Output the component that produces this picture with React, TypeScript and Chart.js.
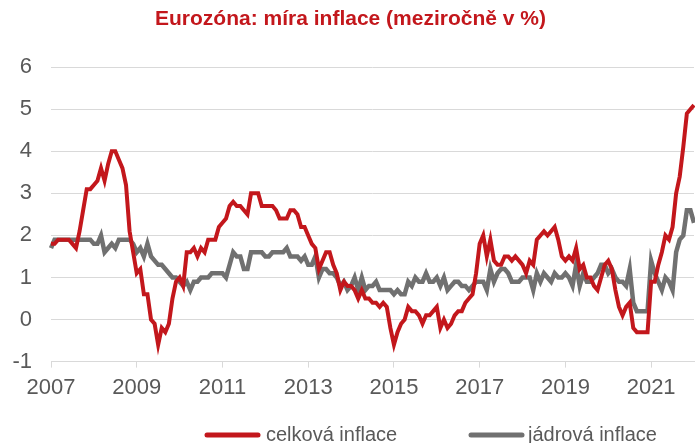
import React, { useEffect, useRef } from "react";
import { Chart, registerables } from "chart.js";

Chart.register(...registerables);

const title = "Eurozóna: míra inflace (meziročně v %)";
const seriesNames = ["celková inflace", "jádrová inflace"];
const startYear = 2007;
const tickYears = [2007, 2009, 2011, 2013, 2015, 2017, 2019, 2021];

// Monthly y/y values, Jan 2007 – Jan 2022
const headline = [
  1.8, 1.8, 1.9, 1.9, 1.9, 1.9, 1.8, 1.7, 2.1, 2.6, 3.1, 3.1,
  3.2, 3.3, 3.6, 3.3, 3.7, 4.0, 4.0, 3.8, 3.6, 3.2, 2.1, 1.6,
  1.1, 1.2, 0.6, 0.6, 0.0, -0.1, -0.6, -0.2, -0.3, -0.1, 0.5, 0.9,
  1.0, 0.8, 1.6, 1.6, 1.7, 1.5, 1.7, 1.6, 1.9, 1.9, 1.9, 2.2,
  2.3, 2.4, 2.7, 2.8, 2.7, 2.7, 2.6, 2.5, 3.0, 3.0, 3.0, 2.7,
  2.7, 2.7, 2.7, 2.6, 2.4, 2.4, 2.4, 2.6, 2.6, 2.5, 2.2, 2.2,
  2.0, 1.8, 1.7, 1.2, 1.4, 1.6, 1.6, 1.3, 1.1, 0.7, 0.9, 0.8,
  0.8, 0.7, 0.5, 0.7, 0.5, 0.5, 0.4, 0.4, 0.3, 0.4, 0.3, -0.2,
  -0.6, -0.3, -0.1, 0.0, 0.3, 0.2, 0.2, 0.1, -0.1, 0.1, 0.1, 0.2,
  0.3, -0.2, 0.0, -0.2, -0.1, 0.1, 0.2, 0.2, 0.4, 0.5, 0.6, 1.1,
  1.8, 2.0, 1.5, 1.9, 1.4, 1.3, 1.3, 1.5, 1.5, 1.4, 1.5, 1.4,
  1.3, 1.1, 1.4, 1.3, 1.9, 2.0, 2.1, 2.0, 2.1, 2.2, 1.9, 1.5,
  1.4, 1.5, 1.4, 1.7, 1.2, 1.3, 1.0, 1.0, 0.8, 0.7, 1.0, 1.3,
  1.4, 1.2, 0.7, 0.3, 0.1, 0.3, 0.4, -0.2, -0.3, -0.3, -0.3, -0.3,
  0.9, 0.9, 1.3, 1.6, 2.0, 1.9, 2.2, 3.0, 3.4, 4.1, 4.9, 5.0,
  5.1,
];

const core = [
  1.7, 1.9, 1.9, 1.9, 1.9, 1.9, 1.9, 1.9, 1.9, 1.9, 1.9, 1.9,
  1.8, 1.8, 2.0, 1.6, 1.7, 1.8, 1.7, 1.9, 1.9, 1.9, 1.9, 1.8,
  1.6, 1.7, 1.5, 1.8, 1.5, 1.4, 1.3, 1.3, 1.2, 1.1, 1.0, 1.0,
  0.9, 0.8, 0.9, 0.7, 0.9, 0.9, 1.0, 1.0, 1.0, 1.1, 1.1, 1.1,
  1.1, 1.0, 1.3, 1.6, 1.5, 1.5, 1.2, 1.2, 1.6, 1.6, 1.6, 1.6,
  1.5, 1.5, 1.6, 1.6, 1.6, 1.6, 1.7, 1.5, 1.5, 1.5, 1.4, 1.5,
  1.3, 1.3, 1.5, 1.0, 1.2, 1.2, 1.1, 1.1, 1.0, 0.8, 0.9, 0.7,
  0.8, 1.0, 0.7, 1.0, 0.7, 0.8, 0.8, 0.9, 0.7, 0.7, 0.7, 0.7,
  0.6, 0.7, 0.6, 0.6, 0.9, 0.8, 1.0, 0.9, 0.9, 1.1, 0.9, 0.9,
  1.0, 0.8, 1.0, 0.7, 0.8, 0.9, 0.9, 0.8, 0.8, 0.7, 0.8, 0.9,
  0.9, 0.9, 0.7, 1.2, 0.9, 1.1, 1.2, 1.2, 1.1, 0.9, 0.9, 0.9,
  1.0, 1.0, 1.0, 0.7, 1.1, 0.9, 1.1, 1.0, 0.9, 1.1, 1.0, 1.0,
  1.1, 1.0, 0.8, 1.3, 0.8, 1.1, 0.9, 0.9, 1.0, 1.1, 1.3, 1.3,
  1.1, 1.2, 1.0, 0.9, 0.9, 0.8, 1.2, 0.4, 0.2, 0.2, 0.2, 0.2,
  1.4, 1.1, 0.9, 0.7, 1.0, 0.9, 0.7, 1.6, 1.9, 2.0, 2.6, 2.6,
  2.3,
];

const RED = "#C3171C";
const GRAY = "#707070";
const TEXT = "#595959";
const GRID = "#D9D9D9";
const FONT = "'Liberation Sans', Arial, sans-serif";

const labels = headline.map((_, i) => {
  const y = startYear + Math.floor(i / 12);
  const m = (i % 12) + 1;
  return `${y}-${String(m).padStart(2, "0")}`;
});

// legend drawn below the axis (line 55px, then label)
const legendPlugin = {
  id: "customLegend",
  afterDraw(chart: any) {
    const ctx = chart.ctx as CanvasRenderingContext2D;
    const starts = [205, 469];
    const gaps = [6, 4];
    const y = 435;
    ctx.save();
    chart.data.datasets.forEach((ds: any, i: number) => {
      const x0 = starts[i];
      ctx.strokeStyle = ds.borderColor;
      ctx.lineWidth = 5;
      ctx.lineCap = "round";
      ctx.beginPath();
      ctx.moveTo(x0 + 2, y);
      ctx.lineTo(x0 + 53, y);
      ctx.stroke();
      ctx.fillStyle = TEXT;
      ctx.font = `20px ${FONT}`;
      ctx.textBaseline = "middle";
      ctx.textAlign = "left";
      ctx.fillText(ds.label, x0 + 55 + gaps[i], y);
    });
    ctx.restore();
  },
};

export default function App() {
  const ref = useRef<HTMLCanvasElement | null>(null);

  useEffect(() => {
    if (!ref.current) return;
    const chart = new Chart(ref.current, {
      type: "line",
      data: {
        labels,
        datasets: [
          {
            label: seriesNames[0],
            data: headline,
            borderColor: RED,
            backgroundColor: RED,
            borderWidth: 4,
            pointRadius: 0,
            tension: 0,
          },
          {
            label: seriesNames[1],
            data: core,
            borderColor: GRAY,
            backgroundColor: GRAY,
            borderWidth: 4.5,
            pointRadius: 0,
            tension: 0,
          },
        ],
      },
      plugins: [legendPlugin],
      options: {
        animation: false,
        responsive: false,
        maintainAspectRatio: false,
        layout: { padding: { left: 7, right: 1, top: 0, bottom: 35 } },
        plugins: {
          title: {
            display: true,
            text: title,
            color: RED,
            font: { family: FONT, size: 21, weight: "bold" },
            padding: { top: 7, bottom: 35 },
          },
          legend: { display: false },
          tooltip: { enabled: false },
        },
        scales: {
          x: {
            type: "category",
            offset: false,
            grid: {
              drawOnChartArea: false,
              drawTicks: true,
              tickLength: 6,
              color: GRID,
            },
            border: { display: true, color: GRID },
            ticks: {
              autoSkip: false,
              maxRotation: 0,
              color: TEXT,
              font: { family: FONT, size: 22 },
              padding: 7,
              callback: (_v: any, i: number) => {
                const lab = labels[i];
                const yr = Number(lab.slice(0, 4));
                if (lab.endsWith("-01") && tickYears.includes(yr)) return String(yr);
                return null;
              },
            },
          },
          y: {
            min: -1,
            max: 6,
            afterFit: (s: any) => {
              s.width = 44;
            },
            ticks: {
              stepSize: 1,
              color: TEXT,
              font: { family: FONT, size: 22 },
              padding: 19,
            },
            grid: { color: GRID, drawTicks: false, lineWidth: 1 },
            border: { display: false },
          },
        },
      },
    });
    return () => chart.destroy();
  }, []);

  return (
    <div style={{ position: "fixed", left: 0, top: 0, width: 695, height: 443, background: "#fff" }}>
      <canvas ref={ref} width={695} height={443} style={{ width: 695, height: 443 }} />
    </div>
  );
}
